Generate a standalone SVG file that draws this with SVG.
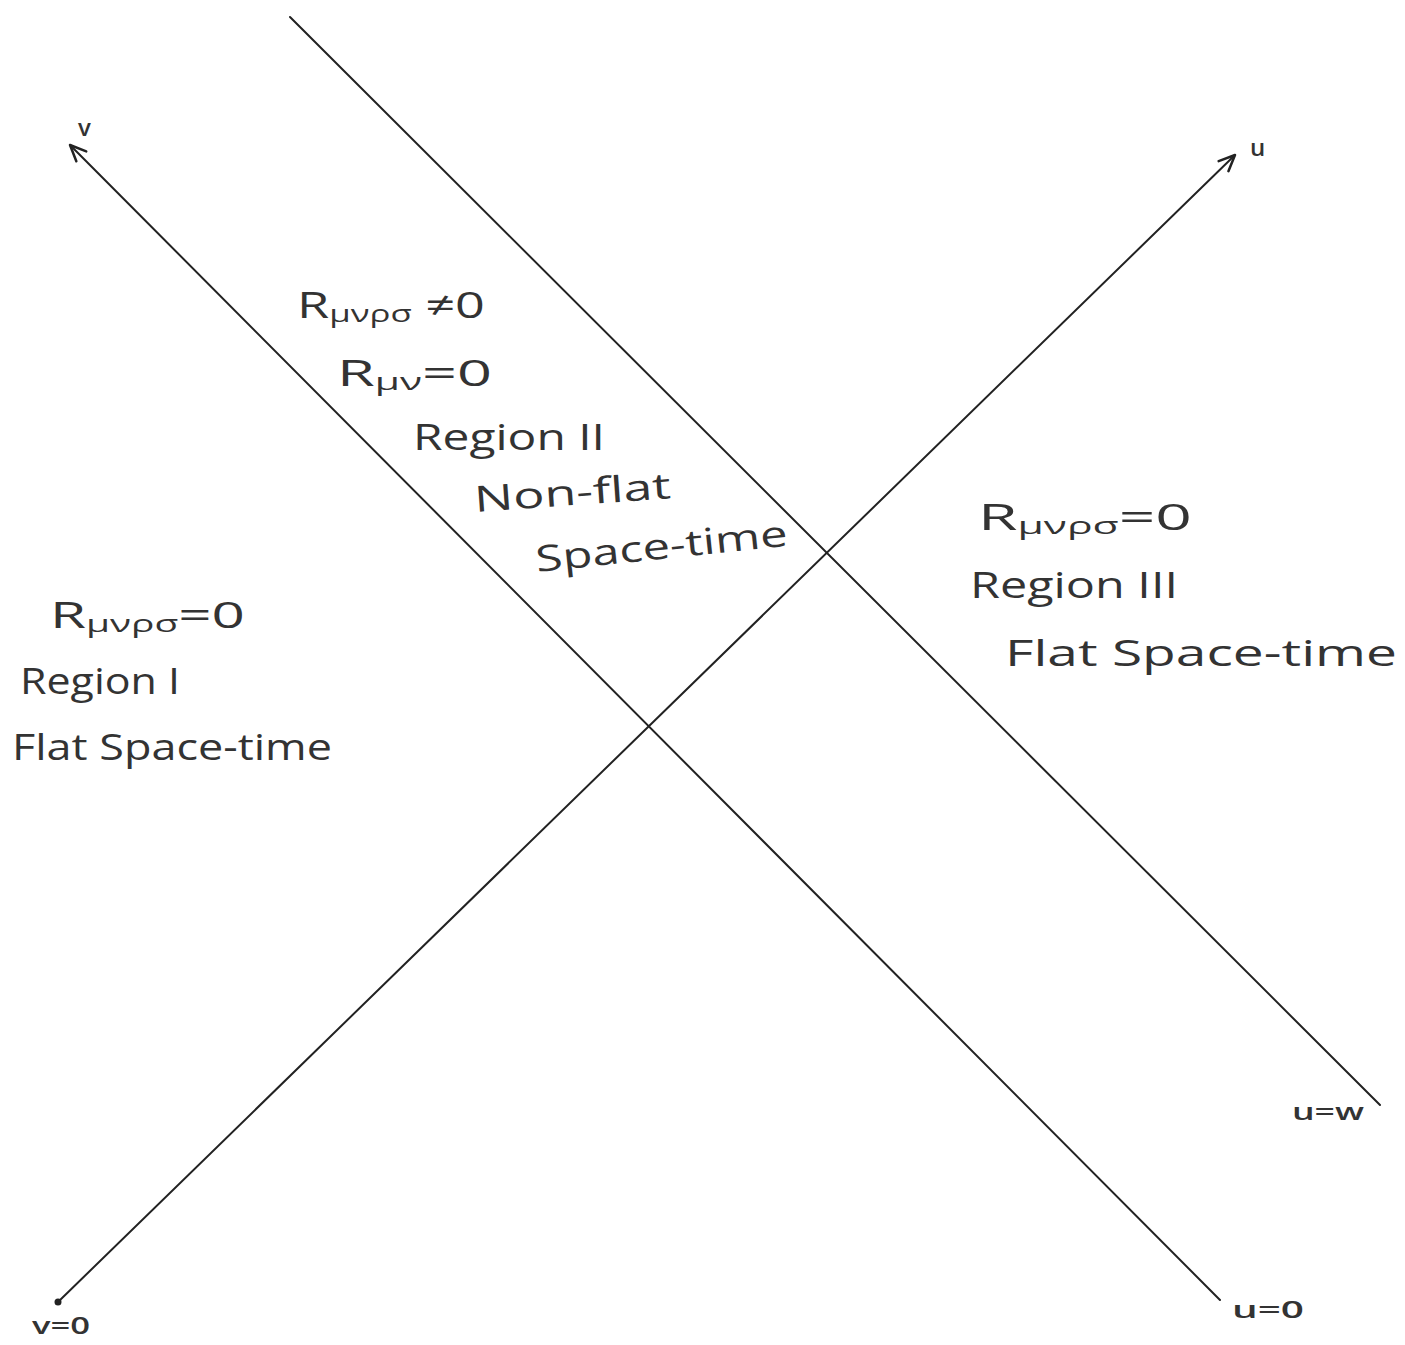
<svg xmlns="http://www.w3.org/2000/svg" width="1405" height="1345" viewBox="0 0 1405 1345">
<style>
.ln{stroke:#222;stroke-width:2;fill:none;stroke-linecap:round}
.t{font-family:"Open Sans","DejaVu Sans",sans-serif;fill:#333;font-size:36px}
.s{font-family:"Open Sans","DejaVu Sans",sans-serif;fill:#333;font-size:24px;font-weight:600}
.sub{font-size:24px}
</style>
<defs>
<marker id="arr" viewBox="0 0 20 20" refX="18" refY="10" markerWidth="20" markerHeight="20" markerUnits="userSpaceOnUse" orient="auto">
<path d="M2,3 L18,10 L2,17" fill="none" stroke="#222" stroke-width="2.5" stroke-linecap="round" stroke-linejoin="round"/>
</marker>
</defs>
<rect width="1405" height="1345" fill="#fff"/>
<g id="connectors">
<line id="u0" class="ln" x1="1220" y1="1300" x2="70" y2="145" marker-end="url(#arr)"/>
<line id="v0" class="ln" x1="58" y1="1302" x2="1235" y2="155" marker-end="url(#arr)"/>
<line id="uw" class="ln" x1="290" y1="17" x2="1380" y2="1105"/>
<circle cx="58" cy="1302" r="3.5" fill="#222"/>
</g>
<g id="axis-labels">
<text class="s" x="78" y="136">v</text>
<text class="s" x="1250" y="156">u</text>
<text class="s" x="1292" y="1120" textLength="72" lengthAdjust="spacingAndGlyphs">u=w</text>
<text class="s" x="1232" y="1318" textLength="72" lengthAdjust="spacingAndGlyphs">u=0</text>
<text class="s" x="32" y="1334" textLength="58" lengthAdjust="spacingAndGlyphs">v=0</text>
</g>
<g id="region1">
<text class="t" x="50" y="628" textLength="195" lengthAdjust="spacingAndGlyphs">R<tspan class="sub" dy="4">μνρσ</tspan><tspan dy="-4">=0</tspan></text>
<text class="t" x="20" y="694" textLength="160" lengthAdjust="spacingAndGlyphs">Region I</text>
<text class="t" x="12" y="760" textLength="320" lengthAdjust="spacingAndGlyphs">Flat  Space-time</text>
</g>
<g id="region2">
<text class="t" x="297" y="318" textLength="188" lengthAdjust="spacingAndGlyphs">R<tspan class="sub" dy="4">μνρσ</tspan><tspan dy="-4"> ≠0</tspan></text>
<text class="t" x="337" y="386" textLength="155" lengthAdjust="spacingAndGlyphs">R<tspan class="sub" dy="4">μν</tspan><tspan dy="-4">=0</tspan></text>
<text class="t" x="413" y="450" textLength="192" lengthAdjust="spacingAndGlyphs">Region II</text>
<text class="t" x="475" y="512" textLength="197" lengthAdjust="spacingAndGlyphs" transform="rotate(-4 475 512)">Non-flat</text>
<text class="t" x="537" y="572" textLength="253" lengthAdjust="spacingAndGlyphs" transform="rotate(-6 537 572)">Space-time</text>
</g>
<g id="region3">
<text class="t" x="978" y="530" textLength="214" lengthAdjust="spacingAndGlyphs">R<tspan class="sub" dy="4">μνρσ</tspan><tspan dy="-4">=0</tspan></text>
<text class="t" x="970" y="598" textLength="208" lengthAdjust="spacingAndGlyphs">Region III</text>
<text class="t" x="1005" y="666" textLength="392" lengthAdjust="spacingAndGlyphs">Flat  Space-time</text>
</g>
</svg>
